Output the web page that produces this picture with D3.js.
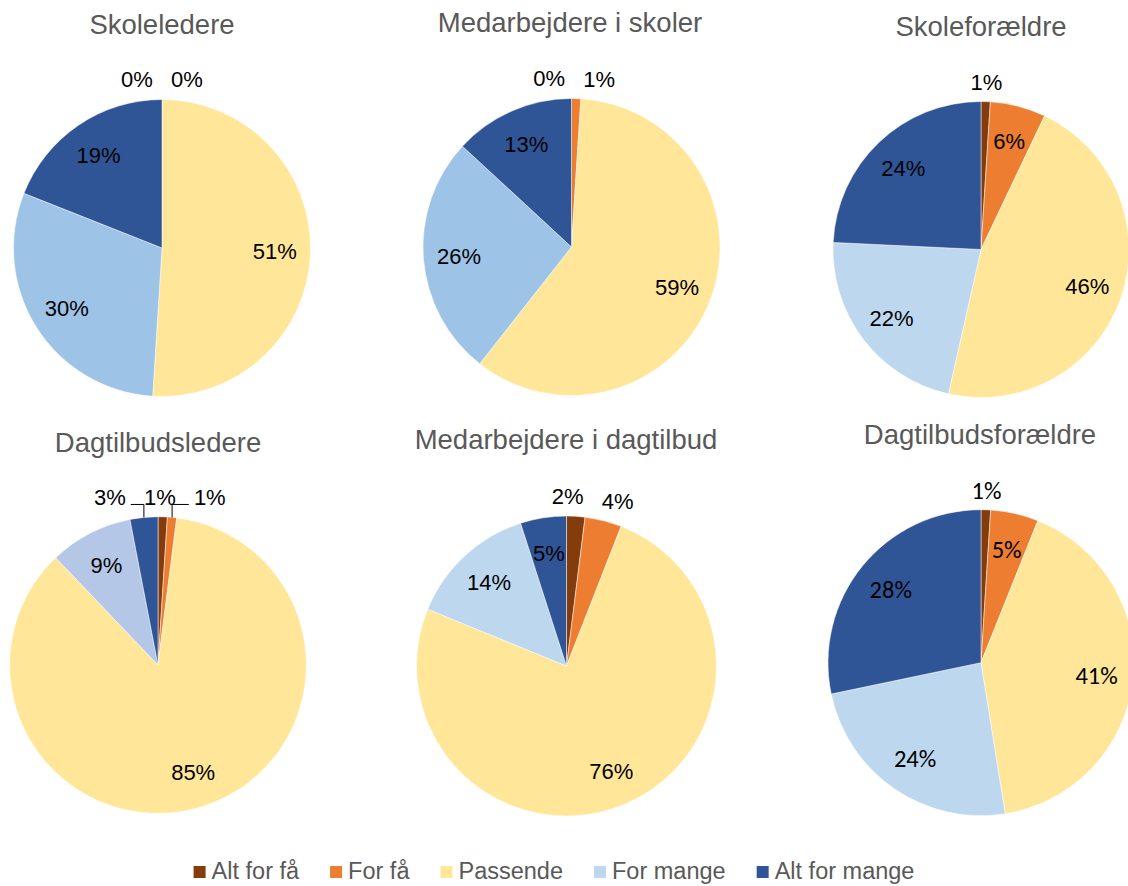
<!DOCTYPE html>
<html>
<head>
<meta charset="utf-8">
<script src="https://cdn.jsdelivr.net/npm/d3@7"></script>
<style>
  html, body { margin: 0; padding: 0; background: #fff; }
  svg { display: block; }
</style>
</head>
<body>
<svg id="chart" width="1128" height="886"></svg>
<script>
// ---- data ----
const categories = ["Alt for få", "For få", "Passende", "For mange", "Alt for mange"];
const titles = ["Skoleledere", "Medarbejdere i skoler", "Skoleforældre",
                "Dagtilbudsledere", "Medarbejdere i dagtilbud", "Dagtilbudsforældre"];
const skoleledere          = [0, 0, 51, 30, 19];
const medarbejdereSkoler   = [0, 1, 59, 26, 13];
const skoleforaeldre       = [1, 6, 46, 22, 24];
const dagtilbudsledere     = [1, 1, 85, 9, 3];
const medarbejdereDagtilbud = [2, 4, 76, 14, 5];
const dagtilbudsforaeldre  = [1, 5, 41, 24, 28];
const seriesValues = [skoleledere, medarbejdereSkoler, skoleforaeldre,
                      dagtilbudsledere, medarbejdereDagtilbud, dagtilbudsforaeldre];

// ---- styles / layout ----
const baseColors = ["#843C0C", "#ED7D31", "#FFE699", "#BDD7EE", "#2F5597"];
const forMangeColors = ["#9DC3E6", "#9DC3E6", "#BDD7EE", "#B4C7E7", "#BDD7EE", "#BDD7EE"];
const radii = [148.5, 148.5, 148, 148.3, 150, 153];
const titleY = [34, 32, 36, 452, 449, 444];
const titleX = [162, 570, 981, 158, 566, 980];
const centerYAdj = [0, -1, 1.5, 1, 2, -1.3];
const labelFonts = ["Liberation Sans, Arial, sans-serif", "Liberation Sans, Arial, sans-serif",
  "Liberation Sans, Arial, sans-serif", "Liberation Sans, Arial, sans-serif",
  "Liberation Sans, Arial, sans-serif", "Carlito, Lato, sans-serif"];
const labelSizes = [22, 22, 22, 22, 22, 24.5];

const svg = d3.select("#chart");
const xCol = d3.scalePoint().domain([0, 1, 2]).range([162, 981]);
const yRow = d3.scalePoint().domain([0, 1]).range([248, 664]);

const pie = d3.pie().sort(null).value(d => d.v);

seriesValues.forEach((vals, i) => {
  const cx = xCol(i % 3) + (i === 3 ? -4 : i === 4 ? -5 : 0);
  const cy = yRow(Math.floor(i / 3)) + centerYAdj[i];
  const r = radii[i];
  const colors = baseColors.slice();
  colors[3] = forMangeColors[i];

  const g = svg.append("g").attr("transform", `translate(${cx},${cy})`);

  svg.append("text")
    .attr("x", titleX[i]).attr("y", titleY[i])
    .attr("text-anchor", "middle")
    .attr("font-family", "Liberation Sans, Arial, sans-serif")
    .attr("font-size", 27.5)
    .attr("fill", "#595959")
    .text(titles[i]);

  const data = vals.map((v, k) => ({ v, k, cat: categories[k] }));
  const arcs = pie(data);
  const arc = d3.arc().innerRadius(0).outerRadius(r);
  const labelArc = d3.arc().innerRadius(r * 0.76).outerRadius(r * 0.76);

  g.selectAll("path.slice").data(arcs).join("path")
    .attr("class", "slice")
    .attr("d", arc)
    .attr("fill", d => colors[d.data.k])
    .attr("stroke", "#fff")
    .attr("stroke-width", 0.5);

  const inside = arcs.filter(d => d.data.v >= 5);
  const outside = arcs.filter(d => d.data.v < 5);

  g.selectAll("text.in").data(inside).join("text")
    .attr("class", "in")
    .attr("transform", d => `translate(${labelArc.centroid(d)})`)
    .attr("text-anchor", "middle")
    .attr("dy", "0.36em")
    .attr("font-family", labelFonts[i])
    .attr("font-size", labelSizes[i])
    .attr("fill", "#000")
    .text(d => d.data.v + "%");

  // outside labels placed above, spread apart horizontally
  const ro = r + 20;
  const outs = outside.map(d => {
    const a = (d.startAngle + d.endAngle) / 2;
    return { d, a, x0: Math.sin(a) * ro, x: Math.sin(a) * ro, y: -Math.cos(a) * ro };
  }).sort((p, q) => p.x0 - q.x0);
  const gap = 50;
  for (let it = 0; it < 100; it++) {
    for (let j = 1; j < outs.length; j++) {
      const ov = gap - (outs[j].x - outs[j - 1].x);
      if (ov > 0) { outs[j - 1].x -= ov / 2; outs[j].x += ov / 2; }
    }
  }
  outs.forEach(o => {
    const half = 16;
    if (Math.abs(o.x - o.x0) > 28) {
      const px = Math.sin(o.a) * r, py = -Math.cos(o.a) * r;
      const ey = o.y + 7;
      const ex = o.x < px ? o.x + half + 5 : o.x - half - 5;
      g.append("path")
        .attr("d", d3.line()([[px, py], [px, ey], [ex, ey]]))
        .attr("fill", "none")
        .attr("stroke", "#000")
        .attr("stroke-width", 1);
    }
    g.append("text")
      .attr("x", o.x).attr("y", o.y)
      .attr("text-anchor", "middle")
      .attr("dy", "0.36em")
      .attr("font-family", labelFonts[i])
      .attr("font-size", labelSizes[i])
      .attr("fill", "#000")
      .text(o.d.data.v + "%");
  });
});

// ---- legend ----
const legendColors = ["#843C0C", "#ED7D31", "#FFE699", "#BDD7EE", "#2F5597"];
const legend = svg.append("g");
let lx = 0;
categories.forEach((c, k) => {
  const it = legend.append("g").attr("transform", `translate(${lx},0)`);
  it.append("rect").attr("x", 0).attr("y", -13).attr("width", 12).attr("height", 12)
    .attr("fill", legendColors[k]);
  const t = it.append("text").attr("x", 18).attr("y", 0)
    .attr("font-family", "Liberation Sans, Arial, sans-serif")
    .attr("font-size", 23.5)
    .attr("fill", "#595959")
    .text(c);
  const w = t.node().getComputedTextLength();
  lx += 18 + w + 31;
});
const totalW = lx - 31;
legend.attr("transform", `translate(${554 - totalW / 2},879)`);
</script>
</body>
</html>
